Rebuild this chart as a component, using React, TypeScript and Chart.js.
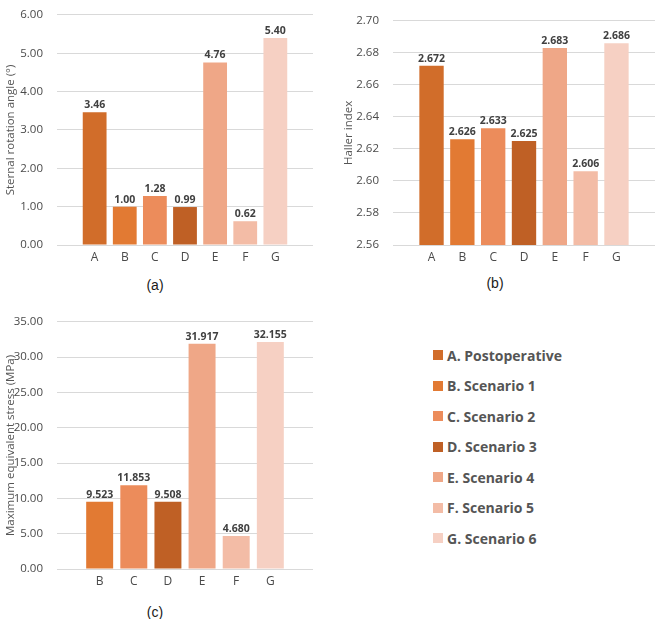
import React, { useEffect, useRef } from "react";
import { Chart, registerables } from "chart.js";

Chart.register(...registerables);

// ---- Data ----
const categoriesAll = ["A", "B", "C", "D", "E", "F", "G"];
const colorsAll = ["#D16D2A", "#E27A33", "#EC8C5B", "#BF6025", "#EFA787", "#F3BCA6", "#F6D0C3"];
const sternalRotation = [3.46, 1.0, 1.28, 0.99, 4.76, 0.62, 5.4];
const hallerIndex = [2.672, 2.626, 2.633, 2.625, 2.683, 2.606, 2.686];
const stressCategories = ["B", "C", "D", "E", "F", "G"];
const stressColors = ["#E27A33", "#EC8C5B", "#BF6025", "#EFA787", "#F3BCA6", "#F6D0C3"];
const maxStress = [9.523, 11.853, 9.508, 31.917, 4.68, 32.155];
const legendLabels = [
  "A. Postoperative",
  "B. Scenario 1",
  "C. Scenario 2",
  "D. Scenario 3",
  "E. Scenario 4",
  "F. Scenario 5",
  "G. Scenario 6",
];

const FONT = "'Open Sans', 'DejaVu Sans', sans-serif";
const GRID = "#D9D9D9";
const TEXT = "#4A4A4A";

const valueLabels = {
  id: "valueLabels",
  afterDatasetsDraw(chart: any, _args: any, opts: any) {
    const ctx = chart.ctx;
    ctx.save();
    ctx.font = `bold 10.5px ${FONT}`;
    ctx.fillStyle = "#404040";
    ctx.textAlign = "center";
    ctx.textBaseline = "alphabetic";
    chart.data.datasets.forEach((ds: any, di: number) => {
      const meta = chart.getDatasetMeta(di);
      meta.data.forEach((el: any, i: number) => {
        const v = ds.data[i].y as number;
        ctx.fillText(v.toFixed(opts.decimals), el.x, el.y - 4);
      });
    });
    ctx.restore();
  },
};

type PanelProps = {
  left: number;
  top: number;
  width: number;
  height: number;
  cats: string[];
  values: number[];
  colors: string[];
  yMin: number;
  yMax: number;
  yStep: number;
  decimals: number;
  title: string;
  axisWidth: number;
  titlePad: number;
  padTop: number;
  padRight: number;
};

function BarPanel(p: PanelProps) {
  const ref = useRef<HTMLCanvasElement>(null);
  useEffect(() => {
    const chart = new Chart(ref.current!, {
      type: "bar",
      data: {
        datasets: [
          {
            data: p.cats.map((_, i) => ({ x: i, y: p.values[i] })),
            backgroundColor: p.colors,
            categoryPercentage: 1,
            barPercentage: 0.79,
          } as any,
        ],
      },
      plugins: [valueLabels as any],
      options: {
        responsive: false,
        animation: false,
        devicePixelRatio: 1,
        layout: { padding: { top: p.padTop, right: p.padRight, left: 0, bottom: 0 } },
        plugins: {
          legend: { display: false },
          tooltip: { enabled: false },
          valueLabels: { decimals: p.decimals },
        } as any,
        scales: {
          x: {
            type: "linear",
            offset: false,
            min: -1.25,
            max: p.cats.length - 1 + 1.25,
            afterBuildTicks: (s: any) => {
              s.ticks = p.cats.map((_, i) => ({ value: i }));
            },
            afterFit: (s: any) => {
              s.height = 25;
            },
            ticks: {
              callback: (v: any) => p.cats[v as number],
              color: TEXT,
              font: { family: FONT, size: 12 },
              padding: 5,
              autoSkip: false,
              maxRotation: 0,
            },
            grid: { display: false, drawTicks: false, offset: false },
            border: { display: false },
          },
          y: {
            min: p.yMin,
            max: p.yMax,
            afterFit: (s: any) => {
              s.width = p.axisWidth;
            },
            ticks: {
              stepSize: p.yStep,
              callback: (v: any) => Number(v).toFixed(2),
              color: TEXT,
              font: { family: FONT, size: 11.5 },
              padding: 14,
            },
            grid: { color: GRID, lineWidth: 1, drawTicks: false },
            border: { display: false },
            title: {
              display: true,
              text: p.title,
              color: "#555555",
              font: { family: FONT, size: 11.5 },
              padding: { top: p.titlePad, bottom: 0 },
            },
          },
        } as any,
      },
    });
    return () => chart.destroy();
  }, []);
  return (
    <canvas
      ref={ref}
      width={p.width}
      height={p.height}
      style={{ position: "absolute", left: p.left, top: p.top, width: p.width, height: p.height }}
    />
  );
}

function Caption({ text, cx, cy }: { text: string; cx: number; cy: number }) {
  return (
    <div
      style={{
        position: "absolute",
        left: cx - 30,
        top: cy - 10,
        width: 60,
        height: 20,
        lineHeight: "20px",
        textAlign: "center",
        fontFamily: "'Liberation Sans', Arial, sans-serif",
        fontSize: 14,
        color: "#1a1a1a",
      }}
    >
      {text}
    </div>
  );
}

export default function App() {
  return (
    <div
      style={{
        position: "absolute",
        left: 0,
        top: 0,
        width: 656,
        height: 619,
        background: "#fff",
        overflow: "hidden",
      }}
    >
      <BarPanel
        left={0}
        top={-6}
        width={330}
        height={276}
        cats={categoriesAll}
        values={sternalRotation}
        colors={colorsAll}
        yMin={0}
        yMax={6}
        yStep={1}
        decimals={2}
        title="Sternal rotation angle (°)"
        axisWidth={57}
        titlePad={4}
        padTop={10}
        padRight={17}
      />
      <BarPanel
        left={330}
        top={0}
        width={326}
        height={270}
        cats={categoriesAll}
        values={hallerIndex}
        colors={colorsAll}
        yMin={2.56}
        yMax={2.7}
        yStep={0.02}
        decimals={3}
        title="Haller index"
        axisWidth={63}
        titlePad={12}
        padTop={10}
        padRight={1}
      />
      <BarPanel
        left={0}
        top={301}
        width={330}
        height={293}
        cats={stressCategories}
        values={maxStress}
        colors={stressColors}
        yMin={0}
        yMax={35}
        yStep={5}
        decimals={3}
        title="Maximum equivalent stress (MPa)"
        axisWidth={57}
        titlePad={4}
        padTop={10}
        padRight={17}
      />
      <Caption text="(a)" cx={155} cy={285} />
      <Caption text="(b)" cx={495} cy={283} />
      <Caption text="(c)" cx={155} cy={612} />
      <div
        style={{
          position: "absolute",
          left: 433,
          top: 339.75,
          display: "flex",
          flexDirection: "column",
          fontFamily: FONT,
          fontWeight: 700,
          fontSize: 14,
          color: "#555555",
        }}
      >
        {legendLabels.map((lab, i) => (
          <div key={lab} style={{ height: 30.5, display: "flex", alignItems: "center", whiteSpace: "nowrap" }}>
            <span
              style={{
                display: "inline-block",
                width: 10,
                height: 10,
                background: colorsAll[i],
                marginRight: 4,
              }}
            />
            <span>{lab}</span>
          </div>
        ))}
      </div>
    </div>
  );
}
